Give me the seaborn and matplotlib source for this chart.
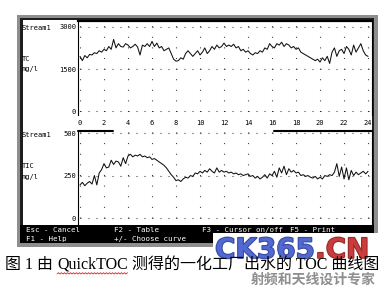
import numpy as np
import pandas as pd
import matplotlib
matplotlib.use("Agg")
import matplotlib.pyplot as plt
import seaborn as sns
from matplotlib.patches import Rectangle
import matplotlib.patheffects as pe

# ---------------- data ----------------
hours = np.round(np.arange(0, 24.01, 0.2), 1)

tc_values = [
    1950, 1800, 1980, 1900, 2020, 2000, 2080, 2050, 2150, 2100,
    2200, 2150, 2300, 2200, 2550, 2250, 2400, 2300, 2280, 2400,
    2350, 2250, 2300, 2380, 2280, 2000, 2350, 2300, 2400, 2300,
    2480, 2300, 2420, 2250, 2300, 2150, 2200, 2250, 2050, 1850,
    1780, 1800, 1900, 1850, 2050, 2150, 2050, 1950, 2050, 2150,
    2000, 2100, 2250, 2050, 2150, 2300, 2200, 2350, 2250, 2300,
    2420, 2300, 2350, 2300, 2380, 2250, 2300, 2150, 2200, 2100,
    2150, 2050, 2000, 2080, 2050, 2150, 2100, 2250, 2200, 2400,
    2300, 2250, 2400, 2350, 2450, 2300, 2400, 2350, 2250, 2300,
    2200, 2250, 2100, 2050, 2000, 1950, 1900, 1850, 1800, 1850,
    1750, 1900, 1800, 1950, 1700, 2100, 2250, 1950, 2150, 2200,
    2050, 2300, 2200, 2000, 2350, 2100, 2250, 2400, 2150, 2000,
    1950,
]

tic_values = [
    195, 210, 190, 205, 215, 200, 250, 195, 265, 285,
    320, 295, 300, 340, 315, 335, 330, 305, 355, 320,
    365, 375, 360, 370, 365, 375, 360, 365, 355, 360,
    345, 350, 340, 330, 320, 310, 295, 275, 255, 240,
    220, 225, 215, 230, 240, 235, 250, 245, 265, 260,
    275, 265, 280, 270, 290, 275, 265, 295, 270, 280,
    270, 275, 265, 270, 260, 265, 255, 260, 250, 255,
    260, 245, 250, 235, 245, 230, 240, 255, 235, 260,
    250, 275, 240, 295, 265, 305, 255, 290, 270, 280,
    265, 270, 250, 255, 245, 250, 240, 235, 245, 230,
    240, 230, 250, 245, 255, 250, 270, 320, 245, 300,
    230, 295, 225, 280, 250, 270, 255, 265, 275, 260,
    275,
]

x_ticks = list(range(0, 25, 2))
tc_ticks = [0, 1500, 3000]
tic_ticks = [0, 250, 500]

footer_row1 = ["Esc - Cancel", "F2 - Table", "F3 - Cursor on/off", "F5 - Print"]
footer_row2 = ["F1 - Help", "+/- Choose curve"]
caption_parts = ["图 1 由 ", "QuickTOC", " 测得的一化工厂出水的 TOC 曲线图"]

df = pd.DataFrame({"hour": hours, "TC": tc_values, "TIC": tic_values})

# ---------------- style ----------------
sns.set_theme(style="white")
plt.rcParams["lines.scale_dashes"] = False
plt.rcParams["font.family"] = ["DejaVu Sans Mono"]

W, H = 392, 285
def fx(x):
    return x / W
def fy(y):
    return 1 - y / H

fig = plt.figure(figsize=(W / 100, H / 100), dpi=100)
fig.patch.set_facecolor("white")

def rect(x0, y0, x1, y1, color, z):
    fig.patches.append(Rectangle((fx(x0), fy(y1)), (x1 - x0) / W, (y1 - y0) / H,
                                 transform=fig.transFigure, facecolor=color,
                                 edgecolor="none", zorder=z))

# instrument screen frame
rect(17, 15, 378, 247, "#8e8e8e", -3)
rect(20, 17.7, 374, 243, "#1e1e1e", -2)
rect(22.7, 20, 372, 243, "white", -1)

PX = 0.72  # points per pixel

def make_axes(top, bottom, ymin, ymax, yticks, series, vperiod, vfirst, hfirst):
    ax = fig.add_axes([fx(78), fy(bottom), (372 - 78) / W, (bottom - top) / H])
    ax.set_facecolor("white")
    sns.lineplot(data=df, x="hour", y=series, ax=ax, color="#111111",
                 linewidth=0.75, legend=False)
    ax.set_xlim(-0.167, 24.33)
    ax.set_ylim(ymin, ymax)
    ax.set_xticks(x_ticks)
    ax.set_yticks(yticks)
    ax.set_xlabel("")
    ax.set_ylabel("")
    # dotted grid: vertical every 2 h, horizontal on the labelled values
    ax.xaxis.grid(True, color="#333333", linewidth=0.8,
                  linestyle=((vperiod - vfirst) * PX, (1 * PX, (vperiod - 1) * PX)))
    ax.yaxis.grid(True, color="#333333", linewidth=0.8,
                  linestyle=((8 - hfirst) * PX, (1 * PX, 7 * PX)))
    ax.tick_params(length=0, labelsize=5, pad=1.4, colors="black")
    for s in ["left", "right", "top"]:
        ax.spines[s].set_color("black")
        ax.spines[s].set_linewidth(0.8)
    ax.spines["bottom"].set_visible(False)
    return ax

ax1 = make_axes(21, 115, -124, 3202, tc_ticks, "TC", 10.6, 3.5, 2)
ax1.spines["top"].set_linewidth(1.6)
ax1.tick_params(axis="x", pad=3.3)

ax2 = make_axes(130.5, 225, -41, 515, tic_ticks, "TIC", 10.63, 7, 2)
ax2.tick_params(axis="x", labelbottom=False)
ax2.spines["top"].set_visible(False)
ax2.axhline(515, xmin=0, xmax=(113 - 78) / 294, color="black", lw=1.5, clip_on=False)
ax2.axhline(515, xmin=(274 - 78) / 294, xmax=1, color="black", lw=1.5, clip_on=False)

# left-side channel labels
lab_kw = dict(fontsize=5, family="DejaVu Sans Mono", ha="left", va="center", color="black")
fig.text(fx(22), fy(27.5), "Stream1", **lab_kw)
fig.text(fx(22), fy(59), "TC", **lab_kw)
fig.text(fx(22), fy(69.5), "mg/l", **lab_kw)
fig.text(fx(22), fy(135.5), "Stream1", **lab_kw)
fig.text(fx(22), fy(166.5), "TIC", **lab_kw)
fig.text(fx(22), fy(177), "mg/l", **lab_kw)

# footer menu bar
rect(20, 225, 374, 243, "black", 5)
foot_kw = dict(fontsize=5.4, family="DejaVu Sans Mono", ha="left", va="center",
               color="white", zorder=6)
for txt, x in zip(footer_row1, [26, 114, 202, 290]):
    fig.text(fx(x), fy(230), txt, **foot_kw)
for txt, x in zip(footer_row2, [26, 114]):
    fig.text(fx(x), fy(239.5), txt, **foot_kw)

# watermark block
rect(213, 233, 392, 285, "white", 6)
renderer = fig.canvas.get_renderer()
wm1 = fig.text(fx(215), fy(258), "CK365", fontsize=20, weight="bold",
               family="DejaVu Sans", color="#5068d0", alpha=0.9, zorder=7,
               ha="left", va="baseline",
               path_effects=[pe.withStroke(linewidth=1.2, foreground="#23338f")])
bb = wm1.get_window_extent(renderer)
fig.text(bb.x1 / W, fy(258), ".CN", fontsize=20, weight="bold",
         family="DejaVu Sans", color="#cc3b3b", alpha=0.9, zorder=7,
         ha="left", va="baseline",
         path_effects=[pe.withStroke(linewidth=1.2, foreground="#7d1515")])
fig.text(fx(313), fy(279.5), "射频和天线设计专家", fontsize=10, weight="bold",
         family=["Noto Sans CJK SC", "DejaVu Sans"], color="#8f8f8f", zorder=7,
         ha="center", va="center")

# caption
cap_kw = dict(fontsize=11.5, family=["Liberation Serif", "Noto Sans CJK SC"],
              color="black", ha="left", va="center", zorder=8)
x_px = 5
pieces = []
for part in caption_parts:
    t = fig.text(fx(x_px), fy(264.5), part, **cap_kw)
    b = t.get_window_extent(renderer)
    pieces.append(b)
    x_px = b.x1
# red spell-check squiggle under "QuickTOC"
qb = pieces[1]
zx = np.arange(qb.x0, qb.x1, 1.5)
zy = qb.y0 - 1.5 + np.where(np.arange(len(zx)) % 2 == 0, 0, 1.3)
fig.add_artist(plt.Line2D(zx / W, zy / H, transform=fig.transFigure,
                          color="#e02020", lw=0.6, zorder=8))

fig.savefig("out.png", dpi=100, facecolor="white")
